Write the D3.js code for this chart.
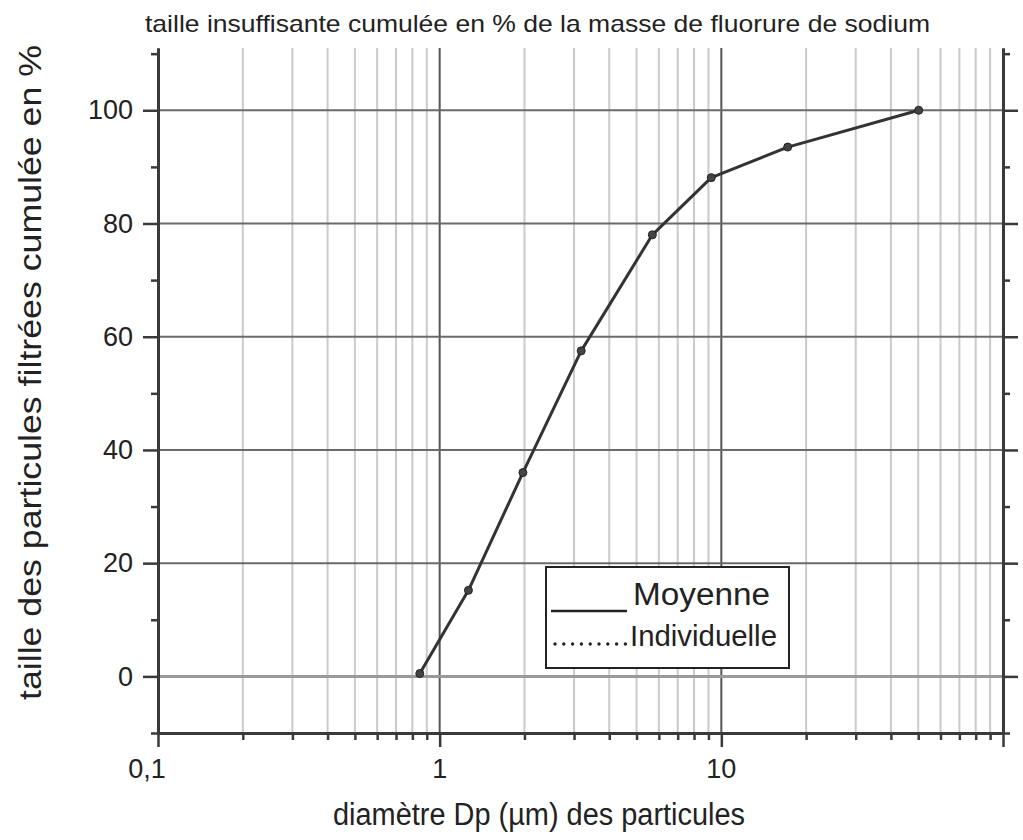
<!DOCTYPE html>
<html><head><meta charset="utf-8">
<script src="https://cdn.jsdelivr.net/npm/d3@7"></script>
<style>
html,body{margin:0;padding:0;background:#fff;}
text{font-family:"Liberation Sans",Arial,sans-serif;fill:#222;}
</style></head>
<body><svg id="c" width="1023" height="840"></svg>
<script>
// ---- data ----
const diameters = [0.85, 1.265, 1.975, 3.18, 5.69, 9.21, 17.2, 50.2];
const cumulative = [0.5, 15.2, 36.0, 57.5, 78.0, 88.1, 93.5, 100];
const yMajorTicks = [0, 20, 40, 60, 80, 100];
const yMinorTicks = [-10, 10, 30, 50, 70, 90, 110];
const xMajorTicks = [0.1, 1, 10, 100];
const xLabelTicks = [0.1, 1, 10];
const xMinorTicks = [0.2,0.3,0.4,0.5,0.6,0.7,0.8,0.9,2,3,4,5,6,7,8,9,20,30,40,50,60,70,80,90];
const titleText = "taille insuffisante cumulée en % de la masse de fluorure de sodium";
const xTitle = "diamètre Dp (µm) des particules";
const yTitle = "taille des particules filtrées cumulée en %";
const legendItems = ["Moyenne", "Individuelle"];

// ---- layout ----
const svg = d3.select("#c");
const L = 158, R = 1003, T = 48, B = 733;
const x = d3.scaleLog().domain([0.1, 100]).range([L, R]);
const y = d3.scaleLinear().domain([-10, 111]).range([B, T]);

// gridlines
const g = svg.append("g");
g.selectAll(".vmin").data(xMinorTicks).join("line")
  .attr("x1", d => x(d)).attr("x2", d => x(d)).attr("y1", T).attr("y2", B)
  .attr("stroke", "#cacaca").attr("stroke-width", 2);
g.selectAll(".vmaj").data([1, 10]).join("line")
  .attr("x1", d => x(d)).attr("x2", d => x(d)).attr("y1", T).attr("y2", B)
  .attr("stroke", "#555").attr("stroke-width", 2);
g.selectAll(".hmaj").data(yMajorTicks).join("line")
  .attr("x1", L).attr("x2", R).attr("y1", d => y(d)).attr("y2", d => y(d))
  .attr("stroke", d => d === 0 ? "#9a9a9a" : "#6a6a6a")
  .attr("stroke-width", d => d === 0 ? 3 : 2);

function styleAxis(sel) {
  sel.selectAll("path,line").attr("stroke", "#3a3a3a").attr("stroke-width", 2.5);
  sel.selectAll("path").attr("stroke-width", 3);
  sel.selectAll("text").remove();
}

// left axis
svg.append("g").attr("transform", `translate(${L},0)`)
  .call(d3.axisLeft(y).tickValues(yMinorTicks).tickSize(7).tickSizeOuter(0).tickFormat(""))
  .call(styleAxis);
const la = svg.append("g").attr("transform", `translate(${L},0)`)
  .call(d3.axisLeft(y).tickValues(yMajorTicks).tickSize(15).tickSizeOuter(0).tickPadding(10));
la.selectAll("path,line").attr("stroke", "#3a3a3a").attr("stroke-width", 2.5);
la.select("path").attr("stroke-width", 3);
la.selectAll("text").attr("font-size", 27).attr("fill", "#222")
  .attr("font-family", '"Liberation Sans",Arial,sans-serif');

// right axis
svg.append("g").attr("transform", `translate(${R},0)`)
  .call(d3.axisRight(y).tickValues(yMinorTicks).tickSize(7).tickSizeOuter(0).tickFormat(""))
  .call(styleAxis);
svg.append("g").attr("transform", `translate(${R},0)`)
  .call(d3.axisRight(y).tickValues(yMajorTicks).tickSize(15).tickSizeOuter(0).tickFormat(""))
  .call(styleAxis);

// bottom axis
svg.append("g").attr("transform", `translate(0,${B})`)
  .call(d3.axisBottom(x).tickValues(xMinorTicks).tickSize(7).tickSizeOuter(0).tickFormat(""))
  .call(styleAxis);
svg.append("g").attr("transform", `translate(0,${B})`)
  .call(d3.axisBottom(x).tickValues(xMajorTicks).tickSize(14).tickSizeOuter(0).tickFormat(""))
  .call(styleAxis);
const fmt = d => d === 0.1 ? "0,1" : String(d);
svg.append("g").selectAll("text").data(xLabelTicks).join("text")
  .attr("x", d => x(d) + (d === 0.1 ? -11 : 0)).attr("y", 778)
  .attr("text-anchor", "middle").attr("font-size", 27).text(fmt);

// data line
const line = d3.line().x((d, i) => x(diameters[i])).y(d => y(d));
svg.append("path").datum(cumulative).attr("d", line)
  .attr("fill", "none").attr("stroke", "#333").attr("stroke-width", 3)
  .attr("stroke-linejoin", "round");
svg.append("g").selectAll("circle").data(cumulative).join("circle")
  .attr("cx", (d, i) => x(diameters[i])).attr("cy", d => y(d)).attr("r", 4)
  .attr("fill", "#444").attr("stroke", "#222").attr("stroke-width", 1);

function squeeze(t, width) {
  t.attr("textLength", width).attr("lengthAdjust", "spacingAndGlyphs");
}

// title
squeeze(svg.append("text").attr("x", 145).attr("y", 32).attr("font-size", 24).text(titleText), 785);
// x title
squeeze(svg.append("text").attr("x", 333).attr("y", 825).attr("font-size", 31).text(xTitle), 412);
// y title
squeeze(svg.append("text").attr("transform", "translate(41,700) rotate(-90)")
  .attr("x", 0).attr("y", 0).attr("font-size", 31).text(yTitle), 655);

// legend
const lg = svg.append("g");
lg.append("rect").attr("x", 546).attr("y", 567).attr("width", 243).attr("height", 101)
  .attr("fill", "#fff").attr("stroke", "#222").attr("stroke-width", 2);
lg.append("line").attr("x1", 551).attr("x2", 627).attr("y1", 611).attr("y2", 611)
  .attr("stroke", "#222").attr("stroke-width", 2.5);
lg.append("line").attr("x1", 555).attr("x2", 626).attr("y1", 644).attr("y2", 644)
  .attr("stroke", "#222").attr("stroke-width", 3.4).attr("stroke-linecap", "round")
  .attr("stroke-dasharray", "0,8.8");
squeeze(lg.append("text").attr("x", 633).attr("y", 605).attr("font-size", 31).text(legendItems[0]), 137);
squeeze(lg.append("text").attr("x", 630).attr("y", 646).attr("font-size", 29).text(legendItems[1]), 147);
</script></body></html>
